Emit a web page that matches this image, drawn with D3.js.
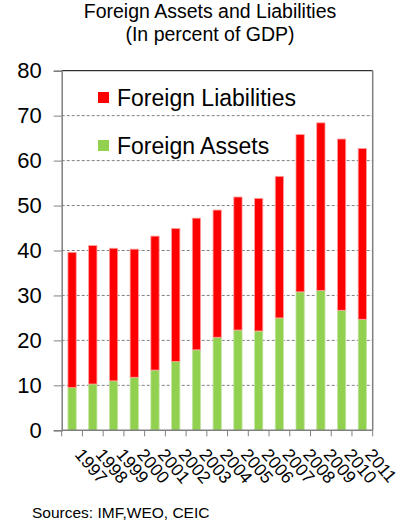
<!DOCTYPE html>
<html>
<head>
<meta charset="utf-8">
<script src="https://cdn.jsdelivr.net/npm/d3@7"></script>
<style>
    body { margin: 0; background: #fff; }
    text { font-family: "Liberation Sans", Arial, sans-serif; fill: #000; }
</style>
</head>
<body>
<div id="chart"></div>
<script>
const years = ["1997", "1998", "1999", "2000", "2001", "2002", "2003", "2004",
    "2005", "2006", "2007", "2008", "2009", "2010", "2011"];
const foreignAssets = [9.5, 10.3, 11.0, 11.8, 13.4, 15.3, 17.9, 20.7, 22.3, 22.1, 25.0, 30.8, 31.1, 26.7, 24.7];
const foreignLiabilities = [30.1, 30.8, 29.5, 28.5, 29.8, 29.6, 29.3, 28.3, 29.6, 29.5, 31.5, 35.0, 37.3, 38.1, 38.0];
const yTicks = [0, 10, 20, 30, 40, 50, 60, 70, 80];

var width = 403;
var height = 523;
// plot box (window.top is reserved, so use other names)
var plotLeft = 61.7, plotRight = 372.7, plotTop = 70.7, plotBottom = 430.3;

var svg = d3.select("#chart")
    .append("svg")
    .attr("width", width)
    .attr("height", height);

var x = d3.scaleBand()
    .domain(years)
    .range([plotLeft, plotRight])
    .padding(0);

var y = d3.scaleLinear()
    .domain([0, 80])
    .range([plotBottom, plotTop]);

// title
svg.append("text")
    .attr("x", 210).attr("y", 18)
    .attr("text-anchor", "middle")
    .style("font-size", "19.5px")
    .text("Foreign Assets and Liabilities");
svg.append("text")
    .attr("x", 210).attr("y", 41)
    .attr("text-anchor", "middle")
    .style("font-size", "19.5px")
    .text("(In percent of GDP)");

// gridlines (dashed), top one solid
svg.append("g")
    .selectAll("line")
    .data(yTicks.filter(d => d > 0))
    .enter()
    .append("line")
    .attr("x1", plotLeft).attr("x2", plotRight)
    .attr("y1", d => y(d)).attr("y2", d => y(d))
    .attr("stroke", d => d === 80 ? "#000" : "#808080")
    .attr("stroke-width", 1)
    .attr("stroke-dasharray", d => d === 80 ? null : "3,2");

// right border
svg.append("line")
    .attr("x1", plotRight).attr("x2", plotRight)
    .attr("y1", plotTop).attr("y2", plotBottom)
    .attr("stroke", "#808080")
    .attr("stroke-width", 1.5);

// stacked bars
var data = years.map((yr, i) => ({ year: yr, assets: foreignAssets[i], liabilities: foreignLiabilities[i] }));
var stack = d3.stack().keys(["assets", "liabilities"]);
var series = stack(data);
var colors = { assets: "#92d050", liabilities: "#ff0000" };
var edges = { assets: "#c4e6a3", liabilities: "#ffa0a0" };
var barW = x.bandwidth() * 0.4;

svg.append("g")
    .selectAll("g")
    .data(series)
    .enter()
    .append("g")
    .attr("fill", d => colors[d.key])
    .attr("stroke", d => edges[d.key])
    .attr("stroke-width", 0.8)
    .selectAll("rect")
    .data(d => d)
    .enter()
    .append("rect")
    .attr("x", d => x(d.data.year) + (x.bandwidth() - barW) / 2)
    .attr("y", d => y(d[1]))
    .attr("width", barW)
    .attr("height", d => y(d[0]) - y(d[1]));

// y axis
var yAxis = svg.append("g")
    .attr("transform", "translate(" + plotLeft + ",0)")
    .call(d3.axisLeft(y).tickValues(yTicks).tickSize(8).tickPadding(12));
yAxis.select(".domain").attr("stroke", "#808080").attr("stroke-width", 1.5);
yAxis.selectAll(".tick line").attr("stroke", "#808080");
yAxis.selectAll(".tick text")
    .style("font-size", "22px")
    .attr("fill", "#000")
    .attr("font-family", null);

// x axis: ticks at band edges
svg.append("line")
    .attr("x1", plotLeft).attr("x2", plotRight)
    .attr("y1", plotBottom).attr("y2", plotBottom)
    .attr("stroke", "#808080")
    .attr("stroke-width", 1.5);
svg.append("g")
    .selectAll("line")
    .data(years.concat(["end"]))
    .enter()
    .append("line")
    .attr("x1", (d, i) => plotLeft + i * x.step())
    .attr("x2", (d, i) => plotLeft + i * x.step())
    .attr("y1", plotBottom).attr("y2", plotBottom + 6)
    .attr("stroke", "#808080");

// rotated year labels
svg.append("g")
    .selectAll("text")
    .data(years)
    .enter()
    .append("text")
    .attr("transform", d => "translate(" + (x(d) + x.bandwidth() / 2 + 2) + "," + 455 + ") rotate(50)")
    .style("font-size", "17.5px")
    .text(d => d);

// legend
var legend = [
    { label: "Foreign Liabilities", color: "#ff0000", y: 92 },
    { label: "Foreign Assets", color: "#92d050", y: 140 }
];
var lg = svg.append("g")
    .selectAll("g")
    .data(legend)
    .enter()
    .append("g");
lg.append("rect")
    .attr("x", 98).attr("y", d => d.y)
    .attr("width", 11).attr("height", 11)
    .attr("fill", d => d.color);
lg.append("text")
    .attr("x", 117).attr("y", d => d.y + 14)
    .style("font-size", "23px")
    .text(d => d.label);

// source note
svg.append("text")
    .attr("x", 32).attr("y", 518)
    .style("font-size", "15.5px")
    .text("Sources: IMF,WEO, CEIC");
</script>
</body>
</html>
